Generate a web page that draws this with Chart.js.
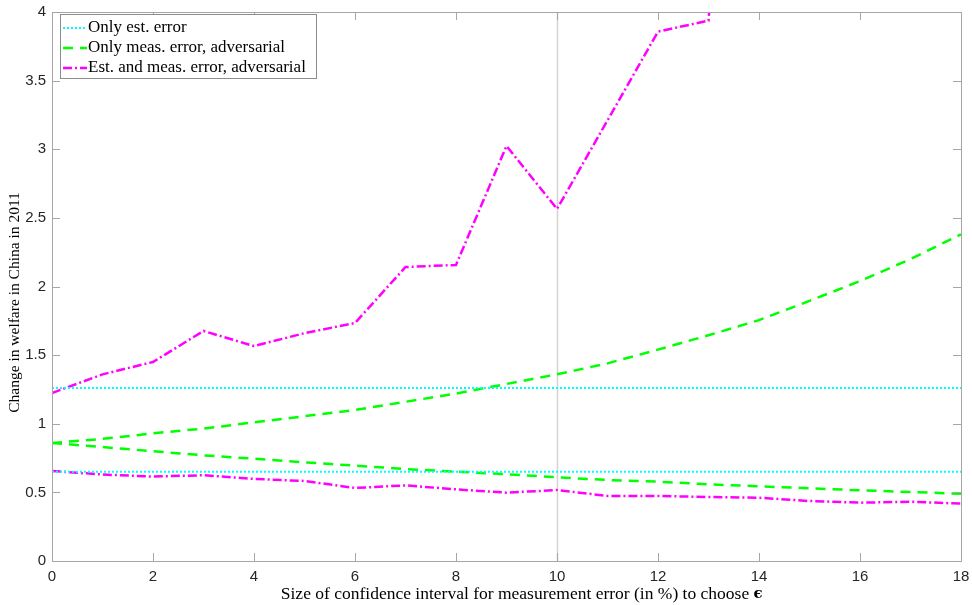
<!DOCTYPE html>
<html>
<head>
<meta charset="utf-8">
<script src="https://cdn.jsdelivr.net/npm/chart.js@4.4.0/dist/chart.umd.min.js"></script>
<style>
  html, body { margin: 0; padding: 0; background: #fff; }
</style>
</head>
<body>
<canvas id="welfareChart" width="972" height="605"></canvas>
<script>
// size of confidence interval (in %)
const epsValues = [0, 1, 2, 3, 4, 5, 6, 7, 8, 9, 10, 11, 12, 13, 14, 15, 16, 17, 18];

// only estimation error (bounds are flat)
const estUpper = [1.26, 1.26, 1.26, 1.26, 1.26, 1.26, 1.26, 1.26, 1.26, 1.26, 1.26, 1.26, 1.26, 1.26, 1.26, 1.26, 1.26, 1.26, 1.26];
const estLower = [0.65, 0.65, 0.65, 0.65, 0.65, 0.65, 0.65, 0.65, 0.65, 0.65, 0.65, 0.65, 0.65, 0.65, 0.65, 0.65, 0.65, 0.65, 0.65];

// only measurement error, adversarial
const measUpper = [0.86, 0.89, 0.93, 0.965, 1.01, 1.055, 1.10, 1.16, 1.22, 1.29, 1.36, 1.44, 1.54, 1.645, 1.755, 1.895, 2.04, 2.20, 2.38];
const measLower = [0.86, 0.83, 0.80, 0.77, 0.745, 0.719, 0.695, 0.67, 0.651, 0.632, 0.61, 0.59, 0.578, 0.559, 0.544, 0.53, 0.515, 0.503, 0.49];

// estimation and measurement error, adversarial (upper bound leaves the plot after 13)
const bothUpper = [1.224, 1.36, 1.45, 1.676, 1.566, 1.66, 1.734, 2.142, 2.157, 3.024, 2.565, 3.21, 3.857, 3.937, 8.9, null, null, null, null];
const bothLower = [0.656, 0.63, 0.615, 0.625, 0.598, 0.583, 0.532, 0.551, 0.522, 0.498, 0.517, 0.474, 0.474, 0.466, 0.461, 0.437, 0.425, 0.432, 0.418];

const xTicks = [0, 2, 4, 6, 8, 10, 12, 14, 16, 18];
const yTicks = [0, 0.5, 1, 1.5, 2, 2.5, 3, 3.5, 4];
const seriesNames = ['Only est. error', 'Only meas. error, adversarial', 'Est. and meas. error, adversarial'];
const xTitle = 'Size of confidence interval for measurement error (in %) to choose ';
const xTitleSymbol = 'ϵ';
const yTitle = 'Change in welfare in China in 2011';
const markedEps = 10;

const CYAN = '#00ffff';
const GREEN = '#00ff00';
const MAGENTA = '#ff00ff';
const AXIS_GREY = '#a6a6a6';

const styles = [
  { color: CYAN, dash: [2, 2], width: 2 },
  { color: GREEN, dash: [10, 7], width: 2.5 },
  { color: MAGENTA, dash: [9, 3, 2, 3], width: 2.5 }
];

function pts(ys) {
  return epsValues.map((x, i) => ({ x: x, y: ys[i] }));
}

function lineSet(label, ys, st) {
  return {
    label: label,
    data: pts(ys),
    borderColor: st.color,
    borderWidth: st.width,
    borderDash: st.dash,
    pointRadius: 0,
    tension: 0,
    fill: false,
    clip: 0,
    spanGaps: false
  };
}

// box, inward ticks, axis titles, legend and the line at eps = 10
const matlabAxes = {
  id: 'matlabAxes',
  beforeDatasetsDraw(chart) {
    const { ctx, chartArea: a, scales } = chart;
    const xp = scales.x.getPixelForValue(markedEps);
    ctx.save();
    ctx.strokeStyle = '#d4d4d4';
    ctx.lineWidth = 1.5;
    ctx.beginPath();
    ctx.moveTo(Math.round(xp) + 0.5, a.top);
    ctx.lineTo(Math.round(xp) + 0.5, a.bottom);
    ctx.stroke();
    ctx.restore();
  },
  afterDatasetsDraw(chart) {
    const { ctx, chartArea: a, scales } = chart;
    ctx.save();
    ctx.strokeStyle = AXIS_GREY;
    ctx.lineWidth = 1;
    ctx.strokeRect(Math.round(a.left) + 0.5, Math.round(a.top) + 0.5,
      Math.round(a.right - a.left), Math.round(a.bottom - a.top));
    const tl = 8;
    ctx.beginPath();
    xTicks.forEach(v => {
      const p = Math.round(scales.x.getPixelForValue(v)) + 0.5;
      ctx.moveTo(p, a.bottom); ctx.lineTo(p, a.bottom - tl);
      ctx.moveTo(p, a.top); ctx.lineTo(p, a.top + tl);
    });
    yTicks.forEach(v => {
      const p = Math.round(scales.y.getPixelForValue(v)) + 0.5;
      ctx.moveTo(a.left, p); ctx.lineTo(a.left + tl, p);
      ctx.moveTo(a.right, p); ctx.lineTo(a.right - tl, p);
    });
    ctx.stroke();

    // axis titles
    ctx.fillStyle = '#000000';
    ctx.textBaseline = 'middle';
    ctx.font = '17.5px "Liberation Serif"';
    const w1 = ctx.measureText(xTitle).width;
    ctx.font = 'bold 17.5px "DejaVu Serif"';
    const w2 = ctx.measureText(xTitleSymbol).width;
    const xStart = (a.left + a.right) / 2 + 16 - (w1 + w2) / 2;
    ctx.font = '17.5px "Liberation Serif"';
    ctx.textAlign = 'left';
    ctx.fillText(xTitle, xStart, a.bottom + 33);
    ctx.font = 'bold 15px "DejaVu Serif"';
    ctx.fillText(xTitleSymbol, xStart + w1, a.bottom + 33);

    ctx.save();
    ctx.translate(15, (a.top + a.bottom) / 2 + 16);
    ctx.rotate(-Math.PI / 2);
    ctx.textAlign = 'center';
    ctx.font = '15.5px "Liberation Serif"';
    ctx.fillText(yTitle, 0, 0);
    ctx.restore();

    // legend box in the top left corner
    ctx.textAlign = 'left';
    const bx = a.left + 8, by = a.top + 2, bw = 256, bh = 64;
    ctx.fillStyle = '#ffffff';
    ctx.fillRect(bx, by, bw, bh);
    ctx.strokeStyle = '#8c8c8c';
    ctx.strokeRect(Math.round(bx) + 0.5, Math.round(by) + 0.5, bw, bh);
    ctx.font = '17px "Liberation Serif"';
    seriesNames.forEach((name, i) => {
      const st = styles[i];
      const yy = by + 14 + i * 20;
      ctx.strokeStyle = st.color;
      ctx.lineWidth = st.width;
      ctx.setLineDash(st.dash);
      ctx.beginPath();
      ctx.moveTo(bx + 3, yy);
      ctx.lineTo(bx + 27, yy);
      ctx.stroke();
      ctx.setLineDash([]);
      ctx.fillStyle = '#000000';
      ctx.fillText(name, bx + 28, yy);
    });
    ctx.restore();
  }
};

const ctx = document.getElementById('welfareChart').getContext('2d');

const chart = new Chart(ctx, {
  type: 'line',
  data: {
    datasets: [
      lineSet(seriesNames[0], estUpper, styles[0]),
      lineSet(seriesNames[0], estLower, styles[0]),
      lineSet(seriesNames[1], measUpper, styles[1]),
      lineSet(seriesNames[1], measLower, styles[1]),
      lineSet(seriesNames[2], bothUpper, styles[2]),
      lineSet(seriesNames[2], bothLower, styles[2])
    ]
  },
  options: {
    responsive: false,
    animation: false,
    layout: { padding: { top: 12, right: 11, left: 0, bottom: 0 } },
    plugins: {
      legend: { display: false },
      tooltip: { enabled: false }
    },
    scales: {
      x: {
        type: 'linear',
        min: 0,
        max: 18,
        afterBuildTicks: s => { s.ticks = xTicks.map(v => ({ value: v })); },
        afterFit: s => { s.height = 44; s.paddingRight = 11; s.paddingLeft = 0; },
        grid: { display: false, drawTicks: false },
        border: { display: false },
        ticks: {
          padding: 7,
          color: '#262626',
          font: { family: '"Liberation Sans"', size: 15 },
          maxRotation: 0,
          callback: v => String(v)
        },
        title: { display: false }
      },
      y: {
        type: 'linear',
        min: 0,
        max: 4,
        afterBuildTicks: s => { s.ticks = yTicks.map(v => ({ value: v })); },
        afterFit: s => { s.width = 52; s.paddingTop = 12; s.paddingBottom = 0; },
        grid: { display: false, drawTicks: false },
        border: { display: false },
        ticks: {
          padding: 6,
          color: '#262626',
          font: { family: '"Liberation Sans"', size: 15 },
          callback: v => String(v)
        },
        title: { display: false }
      }
    }
  },
  plugins: [matlabAxes]
});
</script>
</body>
</html>
